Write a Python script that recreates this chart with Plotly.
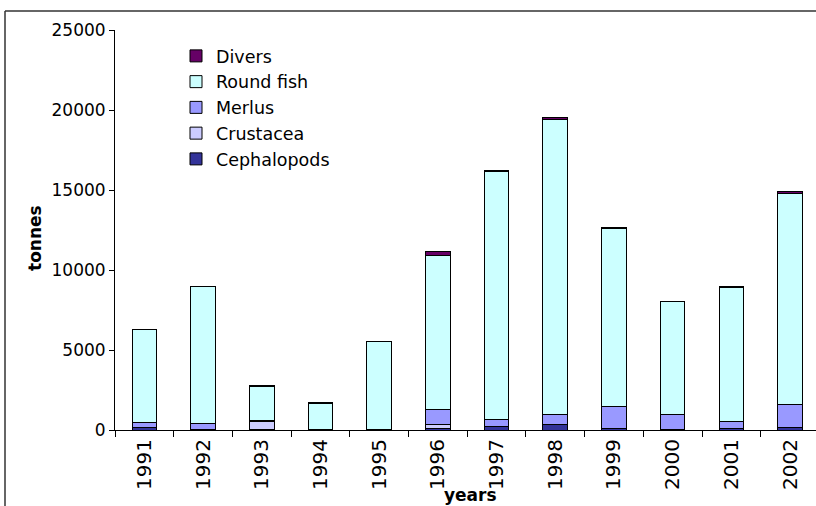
import plotly.graph_objects as go

years = ["1991", "1992", "1993", "1994", "1995", "1996", "1997", "1998", "1999", "2000", "2001", "2002"]
cephalopods = [150, 50, 30, 20, 20, 100, 200, 330, 120, 10, 80, 150]
crustacea = [0, 0, 500, 0, 0, 270, 30, 20, 0, 0, 0, 0]
merlus = [350, 350, 40, 10, 20, 920, 430, 620, 1330, 950, 450, 1450]
round_fish = [5800, 8600, 2150, 1640, 5510, 9610, 15500, 18450, 11150, 7050, 8350, 13200]
divers = [0, 0, 60, 30, 0, 250, 50, 100, 30, 20, 70, 80]

series = [
    ("Cephalopods", cephalopods, "#333399"),
    ("Crustacea", crustacea, "#CCCCFF"),
    ("Merlus", merlus, "#9999FF"),
    ("Round fish", round_fish, "#CCFFFF"),
    ("Divers", divers, "#660066"),
]

FONT = "DejaVu Sans, Verdana, sans-serif"

fig = go.Figure()
for name, vals, col in series:
    fig.add_trace(go.Bar(
        x=years, y=vals, name=name,
        marker=dict(color=col, line=dict(color="black", width=1)),
        width=0.42,
    ))

W, H = 816, 506
L, R, T, B = 115, 0, 30, 76
pw = W - L - R
ph = H - T - B

def px_x(p):
    return (p - L) / pw

def px_y(p):
    return (H - B - p) / ph

fig.update_layout(
    width=W, height=H,
    margin=dict(l=L, r=R, t=T, b=B, pad=0),
    barmode="stack",
    paper_bgcolor="white", plot_bgcolor="white",
    font=dict(family=FONT, color="black", size=17),
    showlegend=True,
    legend=dict(
        x=px_x(176), y=px_y(38), xanchor="left", yanchor="top",
        traceorder="reversed",
        font=dict(size=17.5, family=FONT, color="black"),
        bgcolor="rgba(0,0,0,0)",
        tracegroupgap=0,
    ),
    xaxis=dict(
        type="category",
        range=[-0.5, -0.5 + pw / 58.7],
        showline=True, linecolor="black", linewidth=1,
        ticks="outside", ticklen=6, tickcolor="black", tickwidth=1,
        tickson="boundaries",
        tickangle=-90,
        tickfont=dict(size=20, family=FONT),
        showgrid=False, zeroline=False,
    ),
    yaxis=dict(
        range=[0, 25000],
        tickvals=[0, 5000, 10000, 15000, 20000, 25000],
        ticktext=["0", "5000", "10000", "15000", "20000", "25000"],
        showline=True, linecolor="black", linewidth=1,
        ticks="outside", ticklen=5, tickcolor="black", tickwidth=1,
        tickfont=dict(size=17, family=FONT),
        showgrid=False, zeroline=False,
    ),
    annotations=[
        dict(text="<b>tonnes</b>", x=px_x(35), y=px_y(238), xref="paper", yref="paper",
             showarrow=False, textangle=-90, font=dict(size=17, family=FONT),
             xanchor="center", yanchor="middle"),
        dict(text="<b>years</b>", x=px_x(470), y=px_y(495), xref="paper", yref="paper",
             showarrow=False, font=dict(size=17, family=FONT),
             xanchor="center", yanchor="middle"),
    ],
    shapes=[
        dict(type="line", xref="paper", yref="paper",
             x0=px_x(5), x1=px_x(830), y0=px_y(11), y1=px_y(11),
             line=dict(color="#333333", width=1.5)),
        dict(type="line", xref="paper", yref="paper",
             x0=px_x(5), x1=px_x(5), y0=px_y(11), y1=px_y(520),
             line=dict(color="#333333", width=1.5)),
    ],
)

fig.write_html(
    "out.html",
    config={"displayModeBar": False},
    post_script="document.body.style.margin='0';document.body.style.overflow='hidden';",
)
